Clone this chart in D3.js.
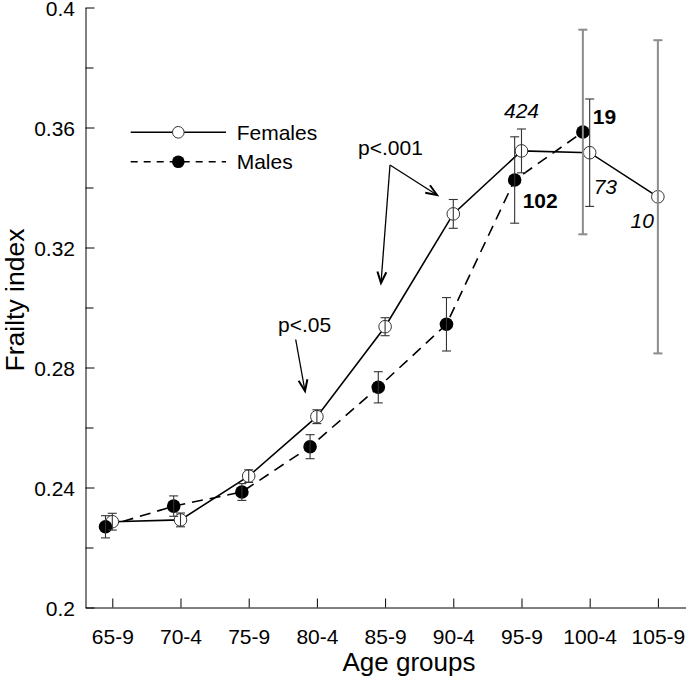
<!DOCTYPE html>
<html>
<head>
<meta charset="utf-8">
<script src="https://cdn.jsdelivr.net/npm/d3@7"></script>
<style>
  html, body { margin: 0; padding: 0; background: #ffffff; }
  svg { display: block; font-family: "Liberation Sans", Arial, sans-serif; }
</style>
</head>
<body>
<svg id="chart" width="686" height="677"></svg>
<script>
// ---------------- data ----------------
const categories   = ["65-9", "70-4", "75-9", "80-4", "85-9", "90-4", "95-9", "100-4", "105-9"];
const femalesFI    = [0.2286, 0.2292, 0.2438, 0.2636, 0.2936, 0.3312, 0.3522, 0.3516, 0.3369];
const femalesErr   = [0.0028, 0.0023, 0.0021, 0.0023, 0.0030, 0.0048, 0.0073, 0.0179, 0.0522];
const malesFI      = [0.2269, 0.2338, 0.2385, 0.2536, 0.2734, 0.2944, 0.3425, 0.3585, null];
const malesErr     = [0.0037, 0.0034, 0.0028, 0.0040, 0.0052, 0.0089, 0.0144, 0.0341, null];
const femalesN     = [null, null, null, null, null, null, "424", "73", "10"];
const malesN       = [null, null, null, null, null, null, "102", "19", null];
const yTickValues  = [0.2, 0.24, 0.28, 0.32, 0.36, 0.4];
const yTickLabels  = ["0.2", "0.24", "0.28", "0.32", "0.36", "0.4"];
const yMinorValues = [0.22, 0.26, 0.30, 0.34, 0.38];
const seriesNames  = ["Females", "Males"];
const pLabels      = ["p<.05", "p<.001"];
const xTitle = "Age groups";
const yTitle = "Frailty index";

// ---------------- layout ----------------
const svg = d3.select("#chart");
const FONT = "'Liberation Sans', Arial, sans-serif";
const x = d3.scaleLinear().domain([-0.393, 8.405]).range([85.5, 685.5]);
const y = d3.scaleLinear().domain([0.2, 0.4]).range([607.5, 7.5]);
const maleShift = -0.1;
const xi = (i, s) => x(i + (s === "m" ? maleShift : 0));

// x axis
const gx = svg.append("g").attr("transform", `translate(0,${y(0.2)})`)
  .call(d3.axisBottom(x).tickValues(d3.range(categories.length))
    .tickFormat(i => categories[i]).tickSizeInner(-9).tickSizeOuter(0).tickPadding(22));
gx.selectAll("text").attr("font-size", 21).attr("font-family", FONT).attr("fill", "#000");

// y axis
const gy = svg.append("g").attr("transform", `translate(${x.range()[0]},0)`)
  .call(d3.axisLeft(y).tickValues(yTickValues)
    .tickFormat((d, i) => yTickLabels[i]).tickSizeInner(-9).tickSizeOuter(0).tickPadding(10.5));
gy.selectAll("text").attr("font-size", 21).attr("font-family", FONT).attr("fill", "#000").attr("dy", "0.38em");
const gym = svg.append("g").attr("transform", `translate(${x.range()[0]},0)`)
  .call(d3.axisLeft(y).tickValues(yMinorValues).tickFormat("").tickSizeInner(-8).tickSizeOuter(0));
gym.select(".domain").remove();
svg.selectAll(".domain, .tick line").attr("stroke", "#000").attr("stroke-width", 1);

// axis titles
svg.append("text").attr("x", 409).attr("y", 671).attr("text-anchor", "middle")
  .attr("font-size", 26).attr("font-family", FONT).text(xTitle);
svg.append("text").attr("transform", "translate(24,300) rotate(-90)").attr("text-anchor", "middle")
  .attr("font-size", 26.5).attr("font-family", FONT).text(yTitle);

// lines
const fIdx = d3.range(categories.length).filter(i => femalesFI[i] != null);
const mIdx = d3.range(categories.length).filter(i => malesFI[i] != null);
svg.append("path")
  .attr("d", d3.line().x(i => xi(i, "f")).y(i => y(femalesFI[i]))(fIdx))
  .attr("fill", "none").attr("stroke", "#000").attr("stroke-width", 1.6);
svg.append("path")
  .attr("d", d3.line().x(i => xi(i, "m")).y(i => y(malesFI[i]))(mIdx))
  .attr("fill", "none").attr("stroke", "#000").attr("stroke-width", 1.6)
  .attr("stroke-dasharray", "11,7");

// markers
svg.append("g").selectAll("circle").data(fIdx).join("circle")
  .attr("cx", i => xi(i, "f")).attr("cy", i => y(femalesFI[i])).attr("r", 6.3)
  .attr("fill", "#fff").attr("stroke", "#333").attr("stroke-width", 1);
svg.append("g").selectAll("circle").data(mIdx).join("circle")
  .attr("cx", i => xi(i, "m")).attr("cy", i => y(malesFI[i])).attr("r", 6.8)
  .attr("fill", "#000");

// error bars
function errBars(idx, vals, errs, s) {
  const g = svg.append("g");
  idx.forEach(i => {
    const big = errs[i] > 0.03;
    const col = big ? "#8c8c8c" : "#333";
    const sw = big ? 2 : 1.1;
    const cx = xi(i, s), y0 = y(vals[i] - errs[i]), y1 = y(vals[i] + errs[i]);
    g.append("line").attr("x1", cx).attr("x2", cx).attr("y1", y0).attr("y2", y1)
      .attr("stroke", col).attr("stroke-width", sw);
    [y0, y1].forEach(yy => g.append("line").attr("x1", cx - 4.5).attr("x2", cx + 4.5)
      .attr("y1", yy).attr("y2", yy).attr("stroke", col).attr("stroke-width", sw));
  });
}
errBars(fIdx, femalesFI, femalesErr, "f");
errBars(mIdx, malesFI, malesErr, "m");

// sample-size labels
const nLayout = {
  "f6": { dx: 0, dy: -33, anchor: "middle" },
  "f7": { dx: 4, dy: 41, anchor: "start" },
  "f8": { dx: -4, dy: 31, anchor: "end" },
  "m6": { dx: 8, dy: 28, anchor: "start" },
  "m7": { dx: 10, dy: -8, anchor: "start" }
};
femalesN.forEach((t, i) => {
  if (!t) return; const L = nLayout["f" + i];
  svg.append("text").attr("x", xi(i, "f") + L.dx).attr("y", y(femalesFI[i]) + L.dy)
    .attr("text-anchor", L.anchor).attr("font-size", 21).attr("font-style", "italic")
    .attr("font-family", FONT).text(t);
});
malesN.forEach((t, i) => {
  if (!t) return; const L = nLayout["m" + i];
  svg.append("text").attr("x", xi(i, "m") + L.dx).attr("y", y(malesFI[i]) + L.dy)
    .attr("text-anchor", L.anchor).attr("font-size", 21).attr("font-weight", "bold")
    .attr("font-family", FONT).text(t);
});

// legend
const lg = svg.append("g");
[0, 1].forEach(k => {
  const ly = k === 0 ? 132.3 : 161.7;
  lg.append("line").attr("x1", 130.7).attr("x2", 226).attr("y1", ly).attr("y2", ly)
    .attr("stroke", "#000").attr("stroke-width", 1.6)
    .attr("stroke-dasharray", k === 0 ? null : "7,6");
  lg.append("circle").attr("cx", 178.3).attr("cy", ly).attr("r", k === 0 ? 5.8 : 6.3)
    .attr("fill", k === 0 ? "#fff" : "#000").attr("stroke", k === 0 ? "#333" : "none");
  lg.append("text").attr("x", 236.7).attr("y", ly).attr("dy", "0.36em")
    .attr("font-size", 21).attr("font-family", FONT).text(seriesNames[k]);
});

// p-value annotations with arrows
function arrow(x1, y1, x2, y2) {
  svg.append("line").attr("x1", x1).attr("y1", y1).attr("x2", x2).attr("y2", y2)
    .attr("stroke", "#000").attr("stroke-width", 1.3);
  const a = Math.atan2(y2 - y1, x2 - x1), L = 12, h = 0.38;
  const p1 = [x2 - L * Math.cos(a - h), y2 - L * Math.sin(a - h)];
  const p2 = [x2 - L * Math.cos(a + h), y2 - L * Math.sin(a + h)];
  svg.append("path").attr("d", `M${p1}L${x2},${y2}L${p2}`)
    .attr("fill", "none").attr("stroke", "#000").attr("stroke-width", 2);
}
svg.append("text").attr("x", 278).attr("y", 332).attr("font-size", 21).attr("font-family", FONT).text(pLabels[0]);
arrow(295.7, 339.5, 305, 391);
svg.append("text").attr("x", 358).attr("y", 155).attr("font-size", 21).attr("font-family", FONT).text(pLabels[1]);
arrow(390, 165, 437, 195);
arrow(390, 165, 381, 283);
</script>
</body>
</html>
